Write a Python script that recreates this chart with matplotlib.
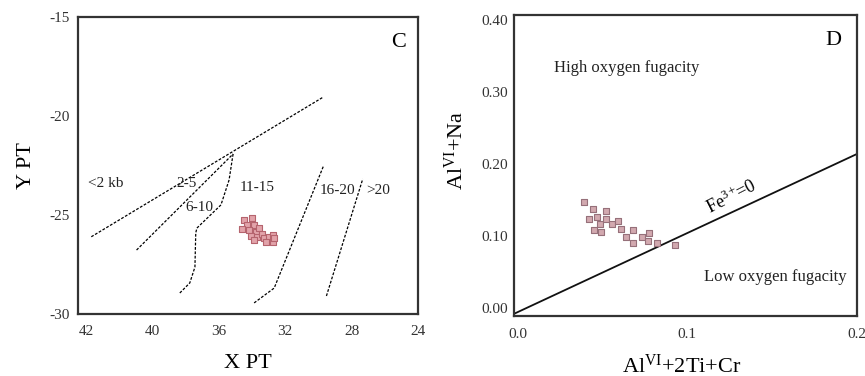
import numpy as np
import matplotlib
matplotlib.use("Agg")
from matplotlib import pyplot as plt

plt.rcParams['font.family'] = ['Liberation Serif', 'DejaVu Serif']
plt.rcParams['mathtext.fontset'] = 'custom'
plt.rcParams['mathtext.rm'] = 'Liberation Serif'
plt.rcParams['mathtext.it'] = 'Liberation Serif:italic'
plt.rcParams['axes.unicode_minus'] = False

# ---- panel C data ----
c_xticks = [44, 40, 36, 32, 28, 24]
c_xticklabels = ['42', '40', '36', '32', '28', '24']
c_yticks = [-15, -20, -25, -30]
c_yticklabels = ['-15', '-20', '-25', '-30']

line_2kb_x = [43.7, 29.7]
line_2kb_y = [-26.1, -19.04]
line_25_x = [40.97, 35.15]
line_25_y = [-26.77, -21.92]
line_610_x = [35.15, 35.39, 35.88, 37.33, 37.4, 37.45, 37.76, 38.42]
line_610_y = [-21.92, -23.23, -24.49, -25.66, -25.9, -27.63, -28.43, -28.99]
line_1620_x = [33.88, 32.67, 29.70]
line_1620_y = [-29.44, -28.69, -22.53]
line_20_x = [29.52, 27.33]
line_20_y = [-29.09, -23.18]

c_labels = ['<2 kb', '2-5', '6-10', '11-15', '16-20', '>20']
c_label_x = [42.85, 37.94, 37.2, 33.7, 28.85, 26.4]
c_label_y = [-23.4, -23.4, -24.6, -23.6, -23.74, -23.74]

c_pts_x = [34.48, 33.98, 34.28, 33.88, 34.59, 34.18, 33.78, 33.58, 34.08,
           33.68, 33.38, 33.27, 32.97, 32.77, 33.17, 32.77, 32.67, 33.88]
c_pts_y = [-25.25, -25.17, -25.51, -25.51, -25.71, -25.76, -25.84, -25.67, -26.05,
           -26.10, -25.97, -26.18, -26.10, -26.01, -26.38, -26.38, -26.18, -26.26]

# ---- panel D data ----
d_xticks = [0.0, 0.1, 0.2]
d_xticklabels = ['0.0', '0.1', '0.2']
d_yticks = [0.0, 0.1, 0.2, 0.3, 0.4]
d_yticklabels = ['0.00', '0.10', '0.20', '0.30', '0.40']

fe_line_x = [-0.002, 0.2]
fe_line_y = [-0.008, 0.214]

d_pts_x = [0.0394, 0.0443, 0.0522, 0.0423, 0.0471, 0.0486, 0.0522, 0.0451, 0.0492, 0.0555,
           0.0591, 0.0610, 0.0640, 0.0683, 0.0679, 0.0732, 0.0777, 0.0771, 0.0820, 0.0928]
d_pts_y = [0.1476, 0.1375, 0.1351, 0.1232, 0.1260, 0.1167, 0.1232, 0.1083, 0.1060, 0.1167,
           0.1213, 0.1097, 0.0990, 0.1083, 0.0907, 0.0982, 0.1046, 0.0935, 0.0907, 0.0875]

fig = plt.figure(figsize=(8.65, 3.76), dpi=100)

# panel C
ax1 = fig.add_axes([0.0902, 0.1649, 0.393, 0.790])
dash = (0, (2.2, 1.3))
for lx, ly in [(line_2kb_x, line_2kb_y), (line_25_x, line_25_y), (line_610_x, line_610_y),
               (line_1620_x, line_1620_y), (line_20_x, line_20_y)]:
    ax1.plot(lx, ly, color='black', lw=0.9, linestyle=dash)
for t, x, y in zip(c_labels, c_label_x, c_label_y):
    ax1.text(x, y, t, fontsize=11, ha='center', va='center', color='#222222')
ax1.scatter(c_pts_x, c_pts_y, marker='s', s=22, facecolor='#e2a3aa', edgecolor='#b5646e',
            linewidth=0.8, zorder=3)
ax1.text(0.965, 0.915, 'C', transform=ax1.transAxes, fontsize=16, ha='right', va='center')
ax1.set_xlim(44.5, 24)
ax1.set_ylim(-30, -15)
ax1.set_xticks(c_xticks)
ax1.set_xticklabels(c_xticklabels)
ax1.set_yticks(c_yticks)
ax1.set_yticklabels(c_yticklabels)
ax1.tick_params(length=0, labelsize=11, labelcolor='#333333')
ax1.tick_params(axis='x', pad=8)
ax1.tick_params(axis='y', pad=6)
ax1.set_xlabel('X PT', fontsize=16)
ax1.set_ylabel('Y PT', fontsize=16)
ax1.xaxis.set_label_coords(0.5, -0.135)
ax1.yaxis.set_label_coords(-0.125, 0.5)

# panel D
ax2 = fig.add_axes([0.5942, 0.1596, 0.3965, 0.8005])
ax2.plot(fe_line_x, fe_line_y, color='#111111', lw=1.3)
ax2.scatter(d_pts_x, d_pts_y, marker='s', s=16, facecolor='#d2a9af', edgecolor='#96707a',
            linewidth=0.8, zorder=3)
ax2.text(0.0645, 0.333, 'High oxygen fugacity', fontsize=12, ha='center', va='center',
         color='#222222')
ax2.text(0.194, 0.043, 'Low oxygen fugacity', fontsize=12, ha='right', va='center',
         color='#222222')
ax2.text(0.126, 0.155, r'Fe$^{3+}\!$=0', fontsize=13, ha='center', va='center', rotation=27)
ax2.text(0.955, 0.915, 'D', transform=ax2.transAxes, fontsize=16, ha='right', va='center')
ax2.set_xlim(-0.002, 0.2)
ax2.set_ylim(-0.011, 0.407)
ax2.set_xticks(d_xticks)
ax2.set_xticklabels(d_xticklabels)
ax2.set_yticks(d_yticks)
ax2.set_yticklabels(d_yticklabels)
ax2.tick_params(length=0, labelsize=11, labelcolor='#333333')
ax2.tick_params(axis='x', pad=9)
ax2.tick_params(axis='y', pad=4)
ax2.set_xlabel(r'Al$^{\mathrm{VI}}$+2Ti+Cr', fontsize=16)
ax2.set_ylabel(r'Al$^{\mathrm{VI}}$+Na', fontsize=16)
ax2.xaxis.set_label_coords(0.49, -0.128)
ax2.yaxis.set_label_coords(-0.135, 0.55)

for ax in (ax1, ax2):
    for sp in ax.spines.values():
        sp.set_linewidth(1.6)
        sp.set_color('#333333')

fig.savefig('out.png', dpi=100)
